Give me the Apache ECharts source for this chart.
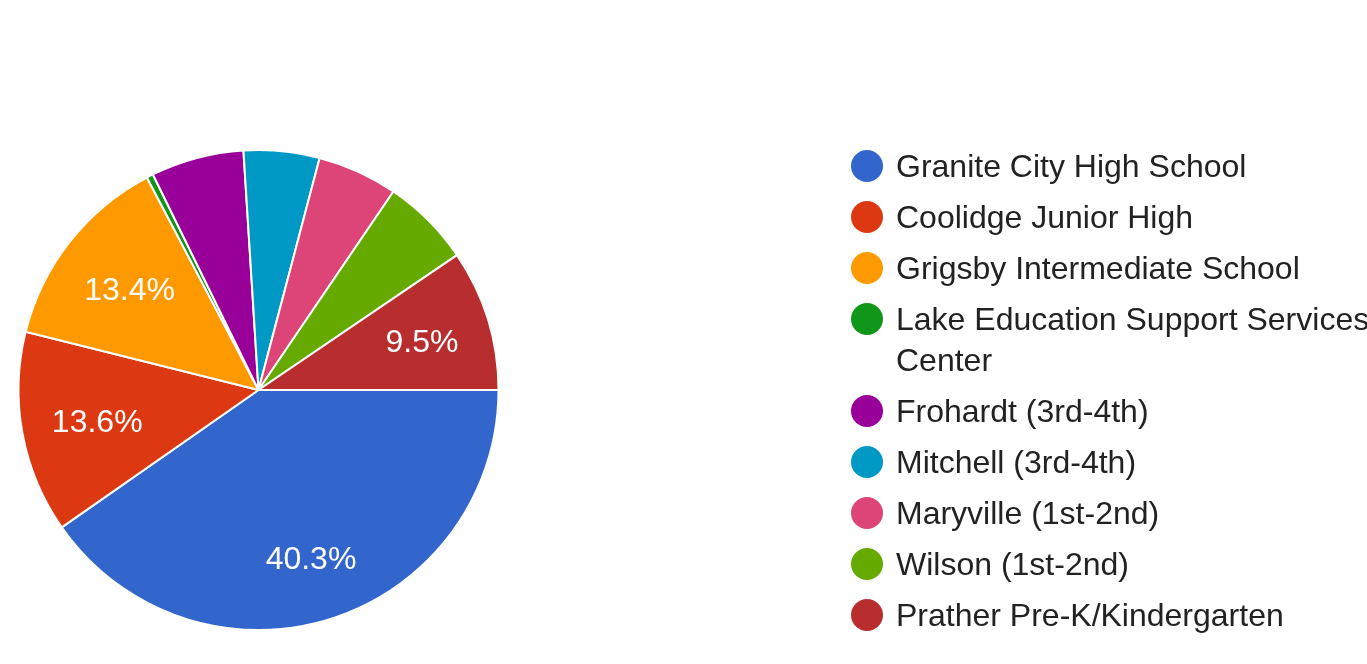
<!DOCTYPE html>
<html>
<head>
<meta charset="utf-8">
<title>Schools pie</title>
<script src="https://cdn.jsdelivr.net/npm/echarts@6/dist/echarts.min.js"></script>
<style>
  html, body { margin: 0; padding: 0; background: #fff; }
  #chart { width: 1367px; height: 664px; }
</style>
</head>
<body>
<div id="chart"></div>
<script>
// schools and their share of answers (percent)
var schoolNames = [
  "Granite City High School",
  "Coolidge Junior High",
  "Grigsby Intermediate School",
  "Lake Education Support Services\nCenter",
  "Frohardt (3rd-4th)",
  "Mitchell (3rd-4th)",
  "Maryville (1st-2nd)",
  "Wilson (1st-2nd)",
  "Prather Pre-K/Kindergarten"
];
var schoolShares = [40.3, 13.6, 13.4, 0.45, 6.25, 5.1, 5.4, 6.0, 9.5];
var sliceColors = ["#3366cc", "#dc3912", "#ff9900", "#109618", "#990099", "#0099c6", "#dd4477", "#66aa00", "#b82e2e"];

var chart = echarts.init(document.getElementById("chart"));
var fontFam = "'Liberation Sans', Arial, sans-serif";
var pieCenter = [258.5, 390];

var pieData = schoolNames.map(function (n, i) {
  return { name: n, value: schoolShares[i], itemStyle: { color: sliceColors[i] } };
});

// transparent copies of the pie, only there to put the % labels at the right distance
function labelRing(mid, test) {
  return {
    type: "pie",
    center: pieCenter,
    radius: [mid - 8, mid + 8],
    startAngle: 0,
    clockwise: true,
    silent: true,
    itemStyle: { color: "rgba(0,0,0,0)" },
    label: {
      position: "inside",
      color: "#ffffff",
      fontFamily: fontFam,
      fontSize: 32,
      padding: [6, 0, 0, 0], // nudges the digits down a bit
      rich: { v: {} },
      formatter: function (p) { return p.value.toFixed(1) + "%"; }
    },
    labelLine: { show: false },
    emphasis: { disabled: true },
    data: schoolNames.map(function (n, i) {
      return { name: n, value: schoolShares[i], label: { show: test(schoolShares[i]) } };
    })
  };
}

var legendText = {
  fontFamily: fontFam,
  fontSize: 32,
  lineHeight: 41,
  color: "#222222",
  padding: [4, 0, 0, 8],
  rich: { t: {} }
};

function legendBlock(top, names) {
  return {
    orient: "vertical",
    left: 851,
    top: top,
    padding: 0,
    itemGap: 6,
    itemWidth: 32,
    itemHeight: 32,
    icon: "circle",
    selectedMode: false,
    itemStyle: { borderWidth: 0 },
    textStyle: legendText,
    // empty first line keeps the icon beside the first line of a wrapped name
    formatter: function (name) {
      return name.indexOf("\n") >= 0 ? "\n" + name : name;
    },
    data: names
  };
}

chart.setOption({
  animation: false,
  legend: [
    legendBlock(143.5, schoolNames.slice(0, 3)),
    legendBlock(255.5, schoolNames.slice(3))
  ],
  series: [
    {
      type: "pie",
      center: pieCenter,
      radius: 240,
      startAngle: 0,
      clockwise: true,
      silent: true,
      label: { show: false },
      labelLine: { show: false },
      itemStyle: { borderColor: "#ffffff", borderWidth: 2 },
      emphasis: { disabled: true },
      data: pieData
    },
    labelRing(172, function (v) { return v > 30; }),
    labelRing(161, function (v) { return v > 12 && v <= 30; }),
    labelRing(168, function (v) { return v >= 9 && v <= 12; })
  ]
});
</script>
</body>
</html>
